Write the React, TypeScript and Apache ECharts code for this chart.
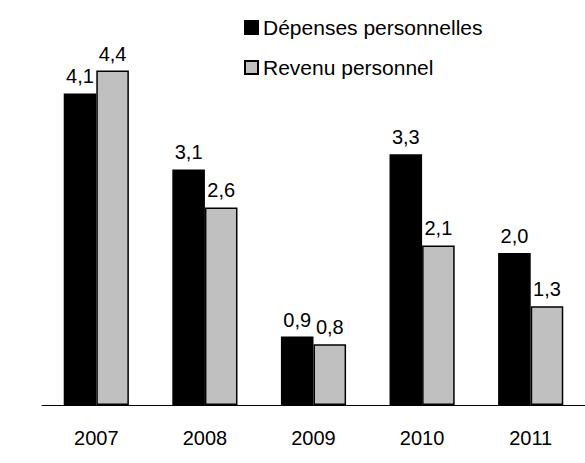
import React, { useEffect, useRef } from "react";
import * as echarts from "echarts";

const categories = ["2007", "2008", "2009", "2010", "2011"];
const depenses = [4.1, 3.1, 0.9, 3.3, 2.0];
const revenu = [4.4, 2.6, 0.8, 2.1, 1.3];
const seriesNames = ["Dépenses personnelles", "Revenu personnel"];

const FONT = "'Liberation Sans', Arial, sans-serif";

export default function App() {
  const ref = useRef<HTMLDivElement>(null);
  useEffect(() => {
    if (!ref.current) return;
    const chart = echarts.init(ref.current, null, { renderer: "svg" });
    const fmt = (p: any) => Number(p.value).toFixed(1).replace(".", ",");
    const label = {
      show: true,
      position: "top" as const,
      distance: 7,
      formatter: fmt,
      color: "#000",
      fontSize: 20,
      fontFamily: FONT,
    };
    chart.setOption({
      animation: false,
      backgroundColor: "#fff",
      textStyle: { fontFamily: FONT },
      grid: { left: 42, right: 0, top: 25, bottom: 58 },
      legend: {
        orient: "vertical",
        left: 239,
        top: 12,
        itemWidth: 13,
        itemHeight: 13,
        itemGap: 19,
        icon: "rect",
        textStyle: { fontSize: 21, color: "#000", fontFamily: FONT },
        data: seriesNames,
      },
      xAxis: {
        type: "category",
        data: categories,
        axisLine: { lineStyle: { color: "#000", width: 1 } },
        axisTick: { show: false },
        axisLabel: { color: "#000", fontSize: 20, margin: 23, fontFamily: FONT },
      },
      yAxis: {
        type: "value",
        min: 0,
        max: 5,
        show: false,
        splitLine: { show: false },
      },
      series: [
        {
          name: seriesNames[0],
          type: "bar",
          data: depenses,
          barGap: "0%",
          barCategoryGap: "40%",
          itemStyle: { color: "#000", borderColor: "#000", borderWidth: 1.5 },
          label,
        },
        {
          name: seriesNames[1],
          type: "bar",
          data: revenu,
          itemStyle: { color: "#C0C0C0", borderColor: "#000", borderWidth: 1.5 },
          label,
        },
      ],
    });
    return () => chart.dispose();
  }, []);
  return (
    <div
      ref={ref}
      style={{ position: "fixed", left: 0, top: 0, width: 585, height: 463 }}
    />
  );
}
